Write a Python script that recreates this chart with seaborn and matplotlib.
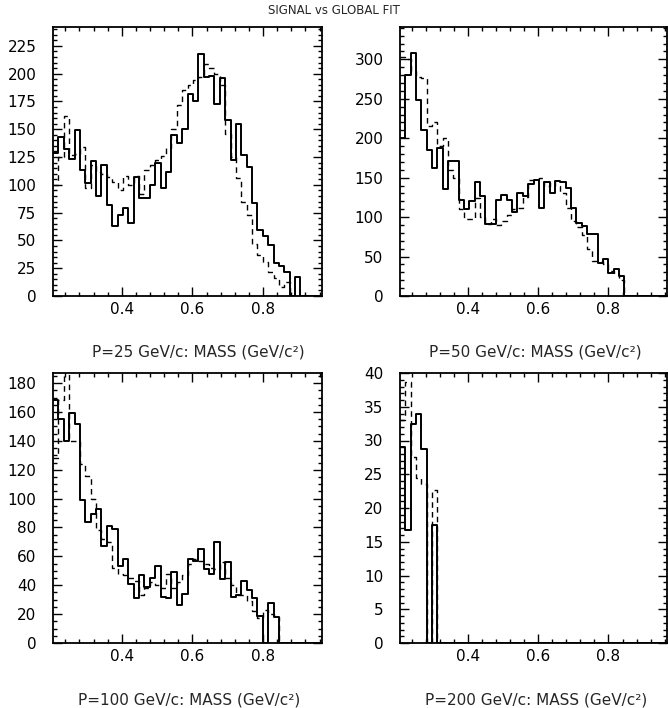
import numpy as np
import pandas as pd
import matplotlib
matplotlib.use('Agg')
import matplotlib.pyplot as plt
from matplotlib.ticker import MultipleLocator
import seaborn as sns

# histogram binning (same for all panels)
x_lo, x_hi, n_bins = 0.205, 0.967, 50

# P = 25 GeV/c
signal_25 = [129, 143, 132, 123, 149, 113, 102, 121, 90, 118,
             82, 63, 73, 79, 66, 107, 88, 88, 100, 120,
             97, 112, 145, 138, 150, 182, 175, 218, 197, 198,
             173, 196, 158, 122, 155, 127, 116, 84, 59, 54,
             46, 30, 27, 22, 0, 17, 0, 0, 0, 0]
fit_25 = [100, 125, 162, 127, 128, 134, 97, 118, 112, 110,
          107, 103, 95, 108, 100, 108, 92, 113, 118, 122,
          126, 133, 150, 172, 185, 190, 194, 197, 209, 205,
          200, 190, 146, 125, 106, 85, 73, 47, 37, 31,
          22, 16, 8, 13, 0, 0, 0, 0, 0, 0]

# P = 50 GeV/c
signal_50 = [200, 280, 308, 248, 210, 185, 162, 187, 136, 171,
             171, 122, 110, 120, 144, 127, 91, 91, 122, 128,
             122, 107, 131, 127, 142, 147, 112, 145, 131, 146,
             145, 137, 111, 92, 89, 79, 79, 42, 47, 29,
             34, 25, 0, 0, 0, 0, 0, 0, 0, 0]
fit_50 = [303, 300, 285, 278, 276, 215, 220, 190, 200, 160,
          150, 110, 97, 98, 124, 100, 91, 97, 90, 95,
          103, 110, 112, 125, 147, 148, 150, 140, 145, 140,
          130, 112, 95, 88, 77, 60, 45, 44, 40, 32,
          28, 20, 0, 0, 0, 0, 0, 0, 0, 0]

# P = 100 GeV/c
signal_100 = [168, 155, 140, 159, 152, 99, 84, 89, 93, 67,
              81, 79, 53, 58, 41, 31, 47, 39, 45, 53,
              32, 31, 49, 26, 34, 58, 57, 65, 51, 48,
              70, 44, 56, 32, 33, 43, 37, 31, 19, 0,
              28, 18, 0, 0, 0, 0, 0, 0, 0, 0]
fit_100 = [128, 168, 195, 140, 140, 124, 116, 100, 78, 72,
           70, 52, 48, 47, 45, 43, 33, 38, 42, 40,
           38, 48, 38, 42, 47, 55, 58, 57, 55, 52,
           51, 56, 45, 40, 33, 33, 29, 22, 17, 23,
           20, 18, 0, 0, 0, 0, 0, 0, 0, 0]

# P = 200 GeV/c
signal_200 = [29, 16.7, 32.4, 34, 28.8, 0, 17.5] + [0] * 43
fit_200 = [33, 38.6, 27.5, 24.5, 23.5, 0, 22.6] + [0] * 43

panel_labels = ['P=25 GeV/c: MASS (GeV/c²)', 'P=50 GeV/c: MASS (GeV/c²)',
                'P=100 GeV/c: MASS (GeV/c²)', 'P=200 GeV/c: MASS (GeV/c²)']
y_tops = [242, 341, 187, 40]
y_major = [25, 50, 20, 5]
y_minor = [5, 10, 5, 1]

sns.set_style('ticks')
plt.rcParams['font.family'] = ['DejaVu Sans']

W, H = 668, 708
fig = plt.figure(figsize=(W / 100, H / 100), dpi=100)

# axes boxes in pixels: left, top, right, bottom
boxes = [(53, 27, 322, 296), (400, 27, 667, 296),
         (53, 373, 322, 643), (400, 373, 667, 643)]
label_pos = [(198, 352), (535, 352), (189, 700), (536, 700)]

bw = (x_hi - x_lo) / n_bins
centers = x_lo + bw * (np.arange(n_bins) + 0.5)

data = [(signal_25, fit_25), (signal_50, fit_50),
        (signal_100, fit_100), (signal_200, fit_200)]

for i, (sig, fit) in enumerate(data):
    l, t, r, b = boxes[i]
    ax = fig.add_axes([l / W, 1 - b / H, (r - l) / W, (b - t) / H])
    df = pd.DataFrame({'mass': centers, 'signal': sig, 'fit': fit})
    sns.histplot(data=df, x='mass', weights='fit', bins=n_bins, binrange=(x_lo, x_hi),
                 element='step', fill=False, color='black', linestyle=(0, (4, 3)),
                 linewidth=1.0, ax=ax)
    sns.histplot(data=df, x='mass', weights='signal', bins=n_bins, binrange=(x_lo, x_hi),
                 element='step', fill=False, color='black', linewidth=1.4, ax=ax)
    ax.set_xlim(x_lo, x_hi)
    ax.set_ylim(0, y_tops[i])
    ax.set_xlabel('')
    ax.set_ylabel('')
    ax.set_xticks([0.4, 0.6, 0.8])
    ax.set_xticklabels(['0.4', '0.6', '0.8'])
    ax.xaxis.set_minor_locator(MultipleLocator(0.04))
    ax.yaxis.set_major_locator(MultipleLocator(y_major[i]))
    ax.yaxis.set_minor_locator(MultipleLocator(y_minor[i]))
    ax.tick_params(which='both', direction='in', top=True, right=True, width=1.0, colors='black')
    ax.tick_params(which='major', length=6.5, labelsize=11)
    ax.tick_params(which='minor', length=3.2)
    ax.tick_params(axis='x', which='major', pad=4)
    ax.tick_params(axis='y', which='major', pad=12)
    for s in ax.spines.values():
        s.set_linewidth(1.3)
        s.set_color('black')
        s.set_visible(True)
    lx, ly = label_pos[i]
    fig.text(lx / W, 1 - ly / H, panel_labels[i], ha='center', va='center', fontsize=11)

fig.text(334 / W, 1 - 11 / H, 'SIGNAL vs GLOBAL FIT', ha='center', va='center', fontsize=8.5)

fig.savefig('out.png', dpi=100)
